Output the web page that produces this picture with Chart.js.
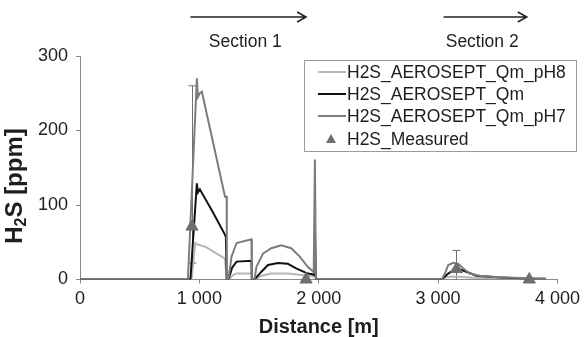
<!DOCTYPE html>
<html>
<head>
<meta charset="utf-8">
<script src="https://cdn.jsdelivr.net/npm/chart.js@4/dist/chart.umd.min.js"></script>
<style>
  html, body { margin: 0; padding: 0; background: #fff; }
</style>
</head>
<body>
<canvas id="h2s-canvas" width="585" height="337"></canvas>
<script>
// distance along the sewer [m] and modelled H2S [ppm]
const pH8Dist = [0, 935, 966, 985, 1049, 1215, 1229, 1243, 1290, 1312, 1436, 1440, 1462, 1520, 1603, 1741, 1908, 1958, 1968, 1976, 3030, 3060, 3127, 3300, 3600, 3903];
const pH8Vals = [0, 0, 49, 47, 44, 28, 0, 0, 7, 8, 8, 0, 0, 5, 8, 8, 5, 4, 30, 0, 0, 3, 4, 2.5, 1.5, 0.5];

const qmDist = [0, 925, 979, 988, 1004, 1104, 1215, 1222, 1229, 1243, 1275, 1312, 1436, 1440, 1462, 1520, 1575, 1658, 1741, 1811, 1908, 1949, 1962, 1968, 1976, 3030, 3057, 3085, 3154, 3210, 3320, 3500, 3700, 3903];
const qmVals = [0, 0, 129, 117, 121, 93, 60, 57, 0, 0, 16, 24, 25, 0, 0, 10.5, 19.5, 22, 21, 15, 8, 7, 6, 70, 0, 0, 4, 8, 15, 12, 5, 3, 1.5, 1];

const pH7Dist = [0, 904, 979, 988, 1004, 1021, 1215, 1229, 1230, 1243, 1270, 1312, 1436, 1440, 1462, 1478, 1534, 1603, 1686, 1769, 1839, 1908, 1958, 1968, 1976, 3030, 3057, 3085, 3127, 3169, 3210, 3265, 3348, 3500, 3700, 3903];
const pH7Vals = [0, 0, 270, 245, 250, 252, 111, 111, 0, 0, 31, 49, 54, 0, 0, 17, 35, 42, 46, 42, 31, 17, 10, 161, 0, 0, 8, 19.5, 22.5, 21, 15, 8, 5, 3, 2, 1];

const measuredDist = [938, 1894, 3154, 3764];
const measuredVals = [71, 0, 14, 0];
const measuredLow = [22, null, 0, null];
const measuredHigh = [260, null, 39, null];

const seriesLabels = ["H2S_AEROSEPT_Qm_pH8", "H2S_AEROSEPT_Qm", "H2S_AEROSEPT_Qm_pH7", "H2S_Measured"];

const sectionNames = ["Section 1", "Section 2"];
const sectionFrom = [925, 3046];
const sectionTo = [1894, 3743];

const xTicks = [0, 1000, 2000, 3000, 4000];
const yTicks = [0, 100, 200, 300];

const textColor = '#1e1e1e';
const axisColor = '#8a8a8a';

function toPoints(xs, ys) {
  return xs.map((x, i) => ({ x: x, y: ys[i] }));
}

function spaced(v) {
  return String(v).replace(/\B(?=(\d{3})+(?!\d))/g, ' ');
}

const extras = {
  id: 'extras',
  beforeDatasetsDraw(chart) {
    // error bars behind the triangles
    const ctx = chart.ctx;
    const xs = chart.scales.x, ys = chart.scales.y;
    ctx.save();
    ctx.strokeStyle = '#707070';
    ctx.lineWidth = 1;
    measuredDist.forEach((d, i) => {
      if (measuredHigh[i] == null) return;
      const px = Math.round(xs.getPixelForValue(d)) + 0.5;
      const top = ys.getPixelForValue(measuredHigh[i]);
      const bot = ys.getPixelForValue(measuredLow[i]);
      ctx.beginPath();
      ctx.moveTo(px, top); ctx.lineTo(px, bot);
      ctx.moveTo(px - 4, top); ctx.lineTo(px + 4, top);
      if (measuredLow[i] > 0) { ctx.moveTo(px - 4, bot); ctx.lineTo(px + 4, bot); }
      ctx.stroke();
    });
    ctx.restore();
  },
  afterDraw(chart) {
    const ctx = chart.ctx;
    const xs = chart.scales.x;
    ctx.save();

    // section arrows
    ctx.strokeStyle = '#222';
    ctx.fillStyle = textColor;
    ctx.lineWidth = 1.5;
    ctx.font = '17.5px "Liberation Sans", Arial, sans-serif';
    ctx.textAlign = 'center';
    ctx.textBaseline = 'middle';
    sectionNames.forEach((name, i) => {
      const x1 = xs.getPixelForValue(sectionFrom[i]);
      const x2 = xs.getPixelForValue(sectionTo[i]);
      const ay = 17;
      ctx.beginPath();
      ctx.moveTo(x1, ay); ctx.lineTo(x2, ay);
      ctx.moveTo(x2 - 9, ay - 5); ctx.lineTo(x2, ay); ctx.lineTo(x2 - 9, ay + 5);
      ctx.stroke();
      ctx.fillText(name, (x1 + x2) / 2 - 3, 42);
    });

    // y axis title with subscript
    ctx.translate(15, 186);
    ctx.rotate(-Math.PI / 2);
    ctx.textAlign = 'left';
    ctx.textBaseline = 'middle';
    const big = 'bold 24px "Liberation Sans", Arial, sans-serif';
    const small = 'bold 16px "Liberation Sans", Arial, sans-serif';
    ctx.font = big;
    const wH = ctx.measureText('H').width;
    const wRest = ctx.measureText('S [ppm]').width;
    ctx.font = small;
    const w2 = ctx.measureText('2').width;
    let tx = -(wH + w2 + wRest) / 2;
    ctx.font = big;
    ctx.fillText('H', tx, 0); tx += wH;
    ctx.font = small;
    ctx.fillText('2', tx, 7); tx += w2;
    ctx.font = big;
    ctx.fillText('S [ppm]', tx, 0);
    ctx.restore();

    // legend box
    ctx.save();
    const bx = 304, by = 60, bw = 272, bh = 91;
    ctx.fillStyle = '#fff';
    ctx.fillRect(bx, by, bw, bh);
    ctx.strokeStyle = '#9a9a9a';
    ctx.lineWidth = 1;
    ctx.strokeRect(bx + 0.5, by + 0.5, bw, bh);
    ctx.font = '17.5px "Liberation Sans", Arial, sans-serif';
    ctx.textAlign = 'left';
    ctx.textBaseline = 'middle';
    const rows = [72, 94, 116, 139];
    chart.data.datasets.forEach((ds) => {
      const r = rows[seriesLabels.indexOf(ds.label)];
      if (ds.showLine === false) {
        ctx.fillStyle = ds.backgroundColor;
        ctx.beginPath();
        ctx.moveTo(331, r - 5); ctx.lineTo(336, r + 4); ctx.lineTo(326, r + 4);
        ctx.closePath(); ctx.fill();
      } else {
        ctx.strokeStyle = ds.borderColor;
        ctx.lineWidth = ds.borderWidth;
        ctx.beginPath();
        ctx.moveTo(318, r); ctx.lineTo(346, r);
        ctx.stroke();
      }
      ctx.fillStyle = textColor;
      ctx.fillText(ds.label, 347, r + 1);
    });
    ctx.restore();
  }
};

function setH2SChart() {
  const ctx = document.getElementById('h2s-canvas');
  return new Chart(ctx, {
    type: 'line',
    data: {
      datasets: [
        {
          label: seriesLabels[3],
          data: toPoints(measuredDist, measuredVals),
          showLine: false,
          clip: false,
          pointStyle: 'triangle',
          pointRadius: 7,
          backgroundColor: '#6e6e6e',
          borderColor: '#6e6e6e',
          borderWidth: 1,
          order: 0
        },
        {
          label: seriesLabels[2],
          data: toPoints(pH7Dist, pH7Vals),
          borderColor: '#7c7c7c',
          borderWidth: 2,
          pointRadius: 0,
          tension: 0,
          order: 1
        },
        {
          label: seriesLabels[1],
          data: toPoints(qmDist, qmVals),
          borderColor: '#111111',
          borderWidth: 2,
          pointRadius: 0,
          tension: 0,
          order: 2
        },
        {
          label: seriesLabels[0],
          data: toPoints(pH8Dist, pH8Vals),
          borderColor: '#b6b6b6',
          borderWidth: 2,
          pointRadius: 0,
          tension: 0,
          order: 3
        }
      ]
    },
    options: {
      responsive: false,
      animation: false,
      layout: { padding: { left: 0, right: 23, top: 56, bottom: 0 } },
      plugins: {
        legend: { display: false },
        tooltip: { enabled: false }
      },
      scales: {
        x: {
          type: 'linear',
          min: xTicks[0],
          max: xTicks[xTicks.length - 1],
          afterFit: (s) => { s.height = 57.5; },
          afterBuildTicks: (s) => { s.ticks = xTicks.map(v => ({ value: v })); },
          grid: { display: true, drawOnChartArea: false, drawTicks: true, tickLength: 4, color: axisColor },
          border: { color: axisColor, width: 1 },
          ticks: {
            color: textColor,
            font: { family: '"Liberation Sans", Arial, sans-serif', size: 18 },
            padding: 5,
            maxRotation: 0,
            autoSkip: false,
            callback: (v) => spaced(v)
          },
          title: {
            display: true,
            text: 'Distance [m]',
            color: textColor,
            font: { family: '"Liberation Sans", Arial, sans-serif', size: 20, weight: 'bold', lineHeight: 1 },
            padding: { top: 0, bottom: 0 }
          }
        },
        y: {
          min: yTicks[0],
          max: yTicks[yTicks.length - 1],
          afterFit: (s) => { s.width = 80; },
          afterBuildTicks: (s) => { s.ticks = yTicks.map(v => ({ value: v })); },
          grid: { display: true, drawOnChartArea: false, drawTicks: true, tickLength: 4, color: axisColor },
          border: { color: axisColor, width: 1 },
          ticks: {
            color: textColor,
            font: { family: '"Liberation Sans", Arial, sans-serif', size: 18 },
            padding: 8
          }
        }
      }
    },
    plugins: [extras]
  });
}

var h2sChart = setH2SChart();
</script>
</body>
</html>
